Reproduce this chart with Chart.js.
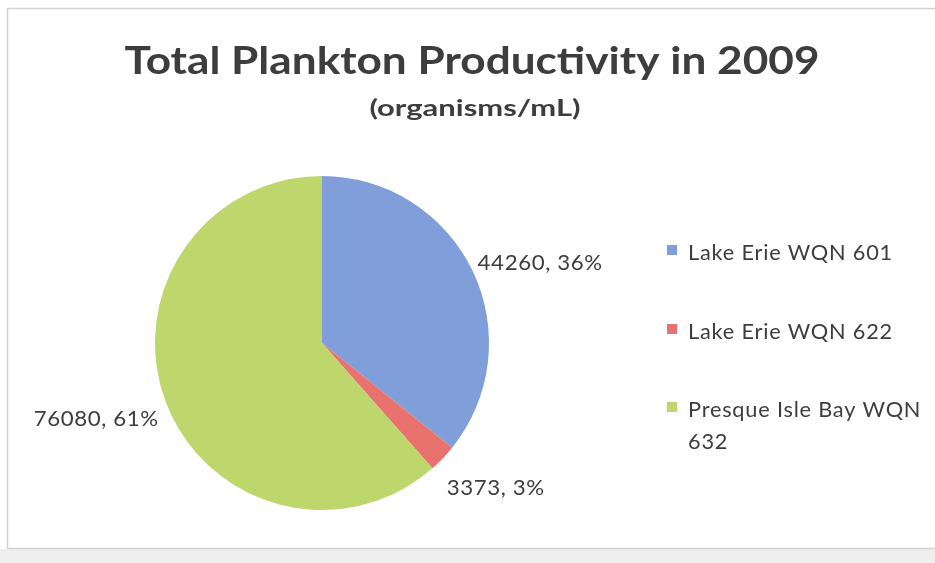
<!DOCTYPE html>
<html><head><meta charset="utf-8">
<script src="https://cdn.jsdelivr.net/npm/chart.js@4/dist/chart.umd.min.js"></script>
<style>html,body{margin:0;padding:0;background:#fff}#wrap{width:935px;height:563px}</style>
</head><body><div id="wrap"><canvas id="c" width="935" height="563"></canvas></div>
<script>
const categories = ["Lake Erie WQN 601", "Lake Erie WQN 622", "Presque Isle Bay WQN 632"];
const values = [44260, 3373, 76080];
const sliceColors = ["#809FDA", "#E9716E", "#BED76D"];
const titleText = "Total Plankton Productivity in 2009";
const subtitleText = "(organisms/mL)";

const FONT = "Lato, 'Open Sans', sans-serif";
const TEXT = "#3d3d3d";

function rawWidth(ctx, text, size, weight, ls) {
  ctx.save();
  ctx.font = weight + " " + size + "px " + FONT;
  ctx.letterSpacing = (ls || 0) + "px";
  const w = ctx.measureText(text).width;
  ctx.restore();
  return w;
}
// draw text with horizontal scale sx (scan appears stretched)
function drawScaled(ctx, text, size, weight, x, baseline, align, sx, ls) {
  const w = rawWidth(ctx, text, size, weight, ls) * sx;
  ctx.save();
  ctx.font = weight + " " + size + "px " + FONT;
  ctx.letterSpacing = (ls || 0) + "px";
  let left = x;
  if (align === "center") left = x - w / 2;
  else if (align === "right") left = x - w;
  ctx.translate(left, baseline);
  ctx.scale(sx, 1);
  ctx.textAlign = "left";
  ctx.textBaseline = "alphabetic";
  ctx.fillStyle = TEXT;
  ctx.fillText(text, 0, 0);
  ctx.restore();
}

const decor = {
  id: "decor",
  beforeDraw(chart) {
    const ctx = chart.ctx;
    ctx.save();
    ctx.fillStyle = "#ffffff";
    ctx.fillRect(0, 0, chart.width, chart.height);
    ctx.fillStyle = "#eeeeee";
    ctx.fillRect(0, 549, chart.width, chart.height - 549);
    ctx.strokeStyle = "#d2d2d2";
    ctx.lineWidth = 1.5;
    ctx.beginPath();
    ctx.moveTo(7.5, 548.5); ctx.lineTo(7.5, 8.5); ctx.lineTo(chart.width, 8.5);
    ctx.moveTo(7.5, 548.5); ctx.lineTo(chart.width, 548.5);
    ctx.stroke();
    ctx.restore();
  },
  afterDraw(chart) {
    const ctx = chart.ctx;
    ctx.save();
    // title + subtitle
    drawScaled(ctx, titleText, 38, "bold", 472, 74, "center", 695 / rawWidth(ctx, titleText, 38, "bold", 0), 0);
    drawScaled(ctx, subtitleText, 22, "bold", 475, 116, "center", 211 / rawWidth(ctx, subtitleText, 22, "bold", 0), 0);
    // legend
    const labels = chart.data.labels;
    const cols = chart.data.datasets[0].backgroundColor;
    const rowBase = [260, 339, 417];
    const legLs = 0.8;
    const legSx = 205 / rawWidth(ctx, labels[0], 22, "normal", legLs);
    const maxW = 238;
    labels.forEach((lab, i) => {
      ctx.fillStyle = cols[i];
      ctx.fillRect(667, rowBase[i] - 15, 10, 10);
      const words = lab.split(" ");
      const lines = [];
      let cur = "";
      words.forEach(wd => {
        const test = cur ? cur + " " + wd : wd;
        const tw = legSx * rawWidth(ctx, test, 22, "normal", legLs);
        if (tw > maxW && cur) { lines.push(cur); cur = wd; } else cur = test;
      });
      lines.push(cur);
      lines.forEach((ln, k) => drawScaled(ctx, ln, 22, "normal", 688, rowBase[i] + k * 32, "left", legSx, legLs));
    });
    // data labels from arc geometry
    const meta = chart.getDatasetMeta(0);
    const data = chart.data.datasets[0].data;
    const total = data.reduce((a, b) => a + b, 0);
    const labSx = 125 / rawWidth(ctx, "44260, 36%", 22, "normal", 0.6);
    const nudge = [[5, -1], [4, 37], [-7, 24]];
    meta.data.forEach((arc, i) => {
      const p = arc.getProps(["x", "y", "startAngle", "endAngle", "outerRadius"], true);
      const mid = (p.startAngle + p.endAngle) / 2;
      const ax = p.x + p.outerRadius * Math.cos(mid);
      const ay = p.y + p.outerRadius * Math.sin(mid);
      const txt = data[i] + ", " + Math.round(data[i] / total * 100) + "%";
      const right = Math.cos(mid) >= 0;
      drawScaled(ctx, txt, 22, "normal", ax + nudge[i][0], ay + nudge[i][1], right ? "left" : "right", labSx, 0.6);
    });
    ctx.restore();
  }
};

new Chart(document.getElementById("c"), {
  type: "pie",
  data: {
    labels: categories,
    datasets: [{ data: values, backgroundColor: sliceColors, borderWidth: 0 }]
  },
  options: {
    responsive: false,
    animation: false,
    layout: { padding: { left: 155, right: 446, top: 176, bottom: 53 } },
    plugins: { legend: { display: false }, title: { display: false }, tooltip: { enabled: false } }
  },
  plugins: [decor]
});
</script>
</body></html>
